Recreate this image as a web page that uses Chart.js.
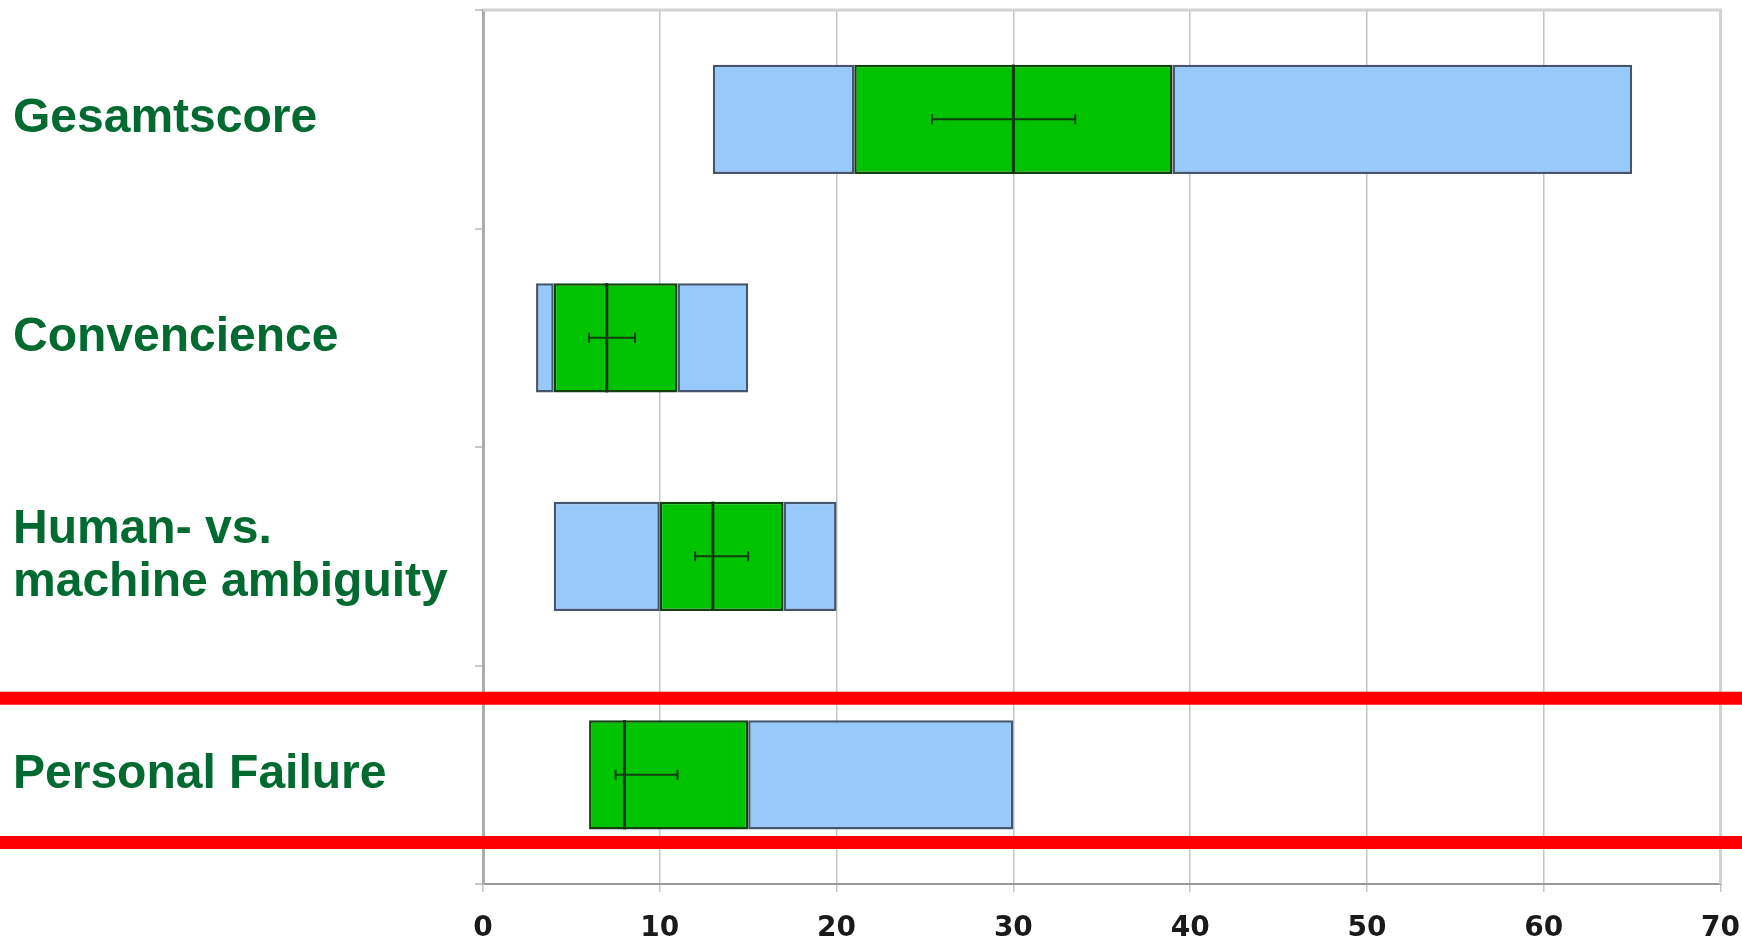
<!DOCTYPE html>
<html>
<head>
<meta charset="utf-8">
<title>Score distribution</title>
<script src="https://cdn.jsdelivr.net/npm/chart.js@4.4.1/dist/chart.umd.min.js"></script>
<style>
  html, body { margin: 0; padding: 0; background: #ffffff; overflow: hidden; }
  #wrap { position: relative; width: 1760px; height: 943px; }
</style>
</head>
<body>
<div id="wrap"><canvas id="chart" width="1760" height="943"></canvas></div>
<script>
// Categories (scales of the questionnaire)
const categories = ['Gesamtscore', 'Convencience', ['Human- vs.', 'machine ambiguity'], 'Personal Failure'];

// Five-number summaries per scale
const minVals    = [13, 3, 4, 6];
const q1Vals     = [21, 4, 10, 6];
const medianVals = [30, 7, 13, 8];
const q3Vals     = [39, 11, 17, 15];
const maxVals    = [65, 15, 20, 30];

// Interval around the mean (drawn as a horizontal error bar)
const meanLow  = [25.4, 6.0, 12.0, 7.5];
const meanHigh = [33.5, 8.6, 15.0, 11.0];

// Axis ticks
const xTicks = [0, 10, 20, 30, 40, 50, 60, 70];

// Highlighted row band (in category-index units)
const highlightBand = [2.65, 3.31];

const lowerBoxes = categories.map((_, i) => minVals[i] < q1Vals[i] ? [minVals[i], q1Vals[i]] : null);
const iqrBoxes   = categories.map((_, i) => [q1Vals[i], q3Vals[i]]);
const upperBoxes = categories.map((_, i) => maxVals[i] > q3Vals[i] ? [q3Vals[i], maxVals[i]] : null);

const BLUE = '#97c9fb';
const BLUE_EDGE = '#44566f';
const GREEN = '#00c300';
const GREEN_EDGE = '#0f420f';

// Median lines, mean error bars, plot frame and highlight band
const overlay = {
  id: 'overlay',
  afterDatasetsDraw(chart) {
    const ctx = chart.ctx;
    const xs = chart.scales.x;
    const meta = chart.getDatasetMeta(1);
    ctx.save();
    meta.data.forEach((bar, i) => {
      const half = bar.height / 2;
      // median
      const mx = xs.getPixelForValue(medianVals[i]);
      ctx.strokeStyle = '#0c340c';
      ctx.lineWidth = 3;
      ctx.beginPath();
      ctx.moveTo(mx, bar.y - half);
      ctx.lineTo(mx, bar.y + half);
      ctx.stroke();
      // mean interval
      const lx = xs.getPixelForValue(meanLow[i]);
      const hx = xs.getPixelForValue(meanHigh[i]);
      ctx.strokeStyle = '#123c12';
      ctx.lineWidth = 2;
      ctx.beginPath();
      ctx.moveTo(lx, bar.y);
      ctx.lineTo(hx, bar.y);
      ctx.moveTo(lx, bar.y - 5);
      ctx.lineTo(lx, bar.y + 5);
      ctx.moveTo(hx, bar.y - 5);
      ctx.lineTo(hx, bar.y + 5);
      ctx.stroke();
    });
    ctx.restore();
  },
  afterDraw(chart) {
    const ctx = chart.ctx;
    const area = chart.chartArea;
    const ys = chart.scales.y;
    ctx.save();
    // light frame on top and right
    ctx.strokeStyle = '#d2d2d2';
    ctx.lineWidth = 3;
    ctx.beginPath();
    ctx.moveTo(area.left, area.top);
    ctx.lineTo(area.right, area.top);
    ctx.lineTo(area.right, area.bottom);
    ctx.stroke();
    // red band around the highlighted row
    ctx.strokeStyle = '#ff0000';
    ctx.lineWidth = 13;
    highlightBand.forEach(v => {
      const y = ys.getPixelForValue(v);
      ctx.beginPath();
      ctx.moveTo(0, y);
      ctx.lineTo(chart.width, y);
      ctx.stroke();
    });
    ctx.restore();
  }
};

const barCommon = {
  grouped: false,
  borderWidth: 2.5,
  borderSkipped: false,
  categoryPercentage: 1.0,
  barPercentage: 0.5
};

new Chart(document.getElementById('chart'), {
  type: 'bar',
  data: {
    labels: categories,
    datasets: [
      Object.assign({ label: 'lower', data: lowerBoxes, backgroundColor: BLUE, borderColor: BLUE_EDGE }, barCommon),
      Object.assign({ label: 'iqr', data: iqrBoxes, backgroundColor: GREEN, borderColor: GREEN_EDGE }, barCommon),
      Object.assign({ label: 'upper', data: upperBoxes, backgroundColor: BLUE, borderColor: BLUE_EDGE }, barCommon)
    ]
  },
  options: {
    indexAxis: 'y',
    responsive: false,
    maintainAspectRatio: false,
    animation: false,
    devicePixelRatio: 1,
    layout: { padding: { top: 10, left: 13, right: 38, bottom: 0 } },
    plugins: {
      legend: { display: false },
      tooltip: { enabled: false }
    },
    scales: {
      x: {
        type: 'linear',
        min: xTicks[0],
        max: xTicks[xTicks.length - 1],
        afterBuildTicks(scale) { scale.ticks = xTicks.map(v => ({ value: v })); },
        afterFit(scale) { scale.height = 59; },
        grid: { color: '#c6c6c6', lineWidth: 1.5, tickLength: 8, drawTicks: true },
        border: { color: '#9a9a9a', width: 2 },
        ticks: {
          color: '#1a1a1a',
          padding: 20,
          maxRotation: 0,
          font: { family: 'DejaVu Sans', size: 28, weight: 'bold' }
        }
      },
      y: {
        type: 'category',
        offset: true,
        afterFit(scale) {
          scale.width = 470;
          scale.paddingTop = 0;
          scale.paddingBottom = 0;
        },
        grid: { display: true, drawOnChartArea: false, offset: true, tickLength: 8, color: '#c8c8c8', lineWidth: 2 },
        border: { color: '#acacac', width: 3 },
        ticks: {
          crossAlign: 'far',
          color: '#006a30',
          padding: 10,
          font: { family: 'Liberation Sans', size: 48, weight: 'bold', lineHeight: 1.12 }
        }
      }
    }
  },
  plugins: [overlay]
});
</script>
</body>
</html>
